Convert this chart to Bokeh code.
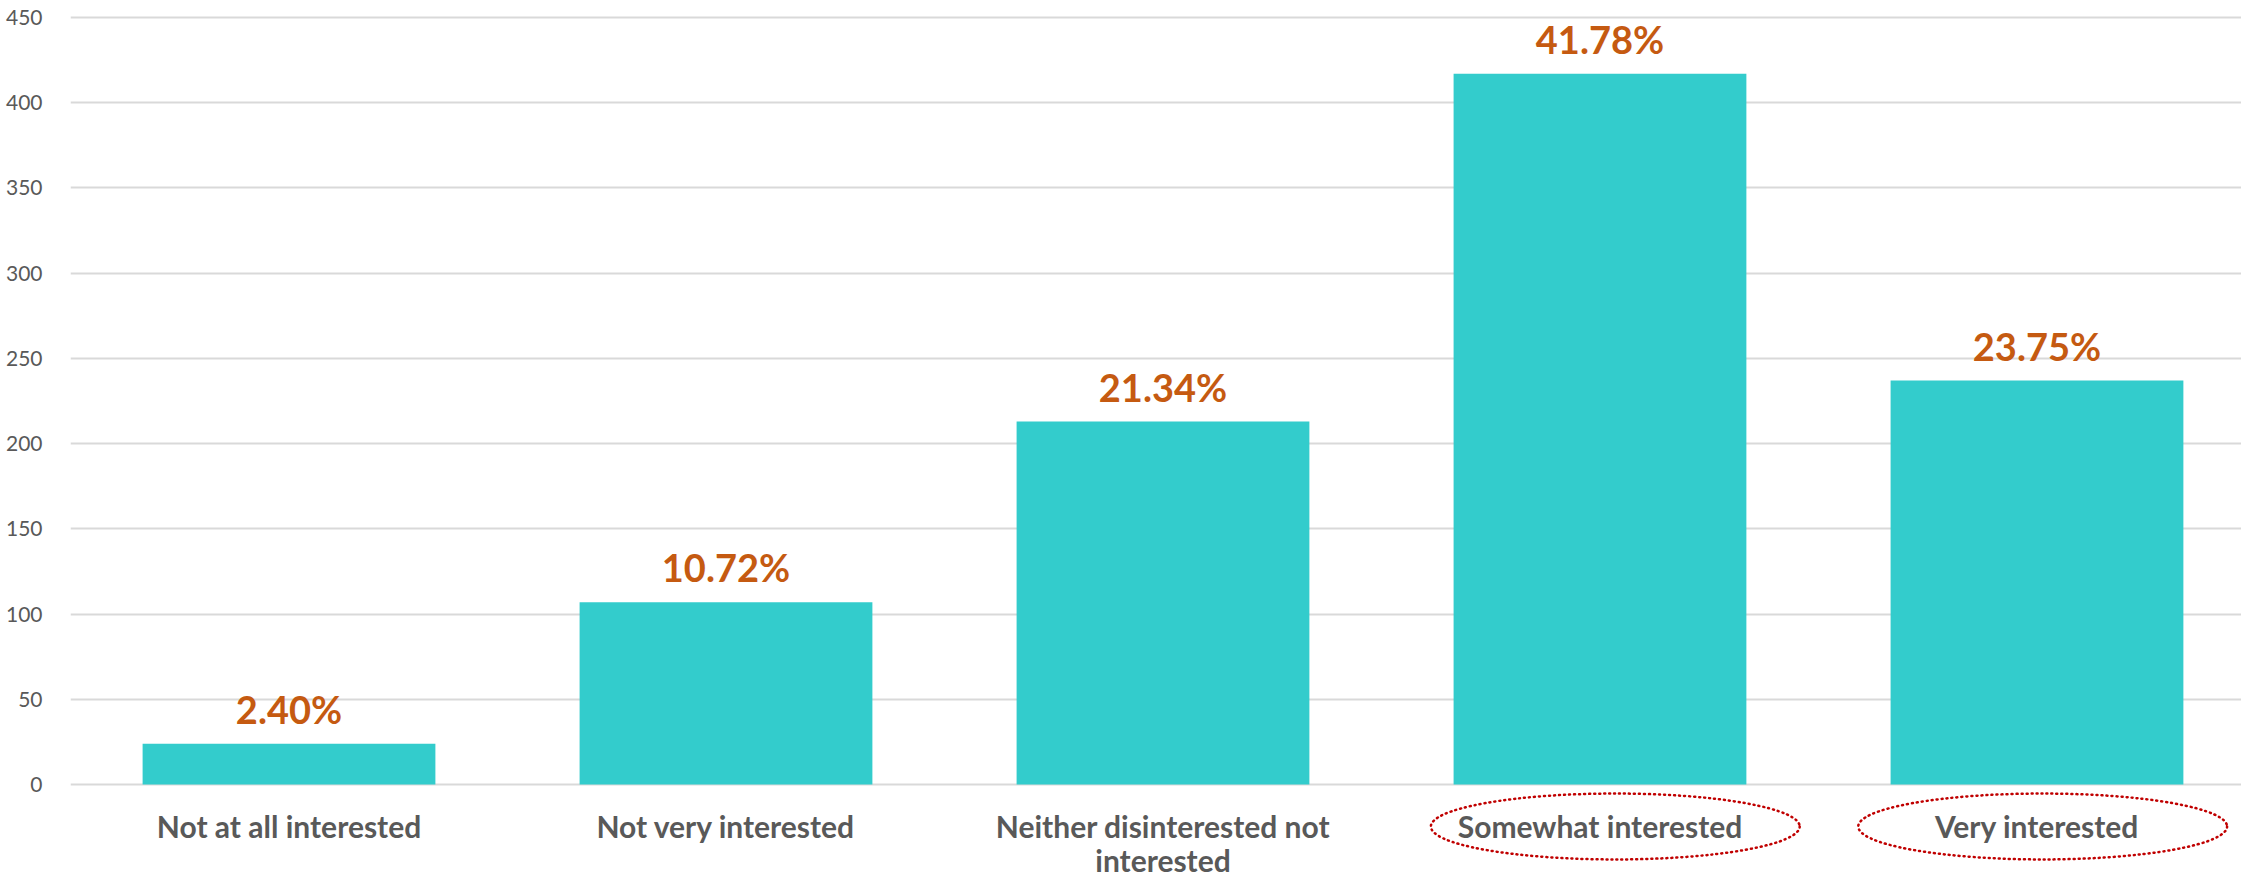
import textwrap
from bokeh.plotting import figure
from bokeh.models import ColumnDataSource, Range1d, FixedTicker
from bokeh.core.properties import value
from bokeh.embed import file_html
from bokeh.resources import INLINE

# ---- data ----
categories = ["Not at all interested", "Not very interested",
              "Neither disinterested not interested", "Somewhat interested",
              "Very interested"]
counts = [24, 107, 213, 417, 237]
pct_labels = ["2.40%", "10.72%", "21.34%", "41.78%", "23.75%"]
highlighted = ["Somewhat interested", "Very interested"]
y_ticks = [0, 50, 100, 150, 200, 250, 300, 350, 400, 450]

BAR = "#33CCCC"
PCT = "#C55A11"
GREY = "#595959"
GRID = "#D9D9D9"

xs = list(range(len(categories)))

p = figure(width=2241, height=879, output_backend="svg", toolbar_location=None,
           x_range=Range1d(-0.5, 4.468), y_range=Range1d(-55.7, 460.0),
           min_border_left=70, min_border_right=0, min_border_top=0,
           min_border_bottom=0)
p.outline_line_color = None
p.background_fill_color = "white"
p.border_fill_color = "white"

p.xaxis.visible = False
p.xgrid.visible = False
p.yaxis.ticker = FixedTicker(ticks=y_ticks)
p.ygrid.ticker = FixedTicker(ticks=y_ticks)
p.ygrid.grid_line_color = GRID
p.ygrid.grid_line_width = 2
p.yaxis.axis_line_color = None
p.yaxis.major_tick_line_color = None
p.yaxis.minor_tick_line_color = None
p.yaxis.major_label_standoff = 22
p.yaxis.major_label_text_font = "Lato"
p.yaxis.major_label_text_font_size = "21px"
p.yaxis.major_label_text_color = GREY

src = ColumnDataSource(dict(x=xs, top=counts, pct=pct_labels))
p.vbar(x="x", top="top", bottom=0, width=0.67, source=src,
       fill_color=BAR, line_color=None)

p.text(x="x", y="top", text="pct", source=src, y_offset=-35,
       text_align="center", text_baseline="alphabetic",
       text_font=value("Lato"), text_font_style="bold",
       text_font_size="38px", text_color=PCT)

# category labels (wrapped) drawn below the baseline
lx, ly, lt = [], [], []
for i, c in enumerate(categories):
    for j, line in enumerate(textwrap.wrap(c, width=26)):
        lx.append(i)
        ly.append(-24.6 - 19.6 * j)
        lt.append(line)
p.text(x=lx, y=ly, text=lt, text_align="center", text_baseline="middle",
       text_font=value("Lato"), text_font_style="bold",
       text_font_size="30px", text_color=GREY)

# dotted ellipses around highlighted labels
ex = [categories.index(h) for h in highlighted]
ex = [ex[0] + 0.035, ex[1] + 0.013]
p.ellipse(x=ex, y=[-24.6] * len(ex), width=0.844, height=38.7,
          fill_color=None, line_color="#C00000", line_width=2.5,
          line_dash="1 4", line_cap="round")

open("out.html", "w").write(file_html(p, INLINE))
